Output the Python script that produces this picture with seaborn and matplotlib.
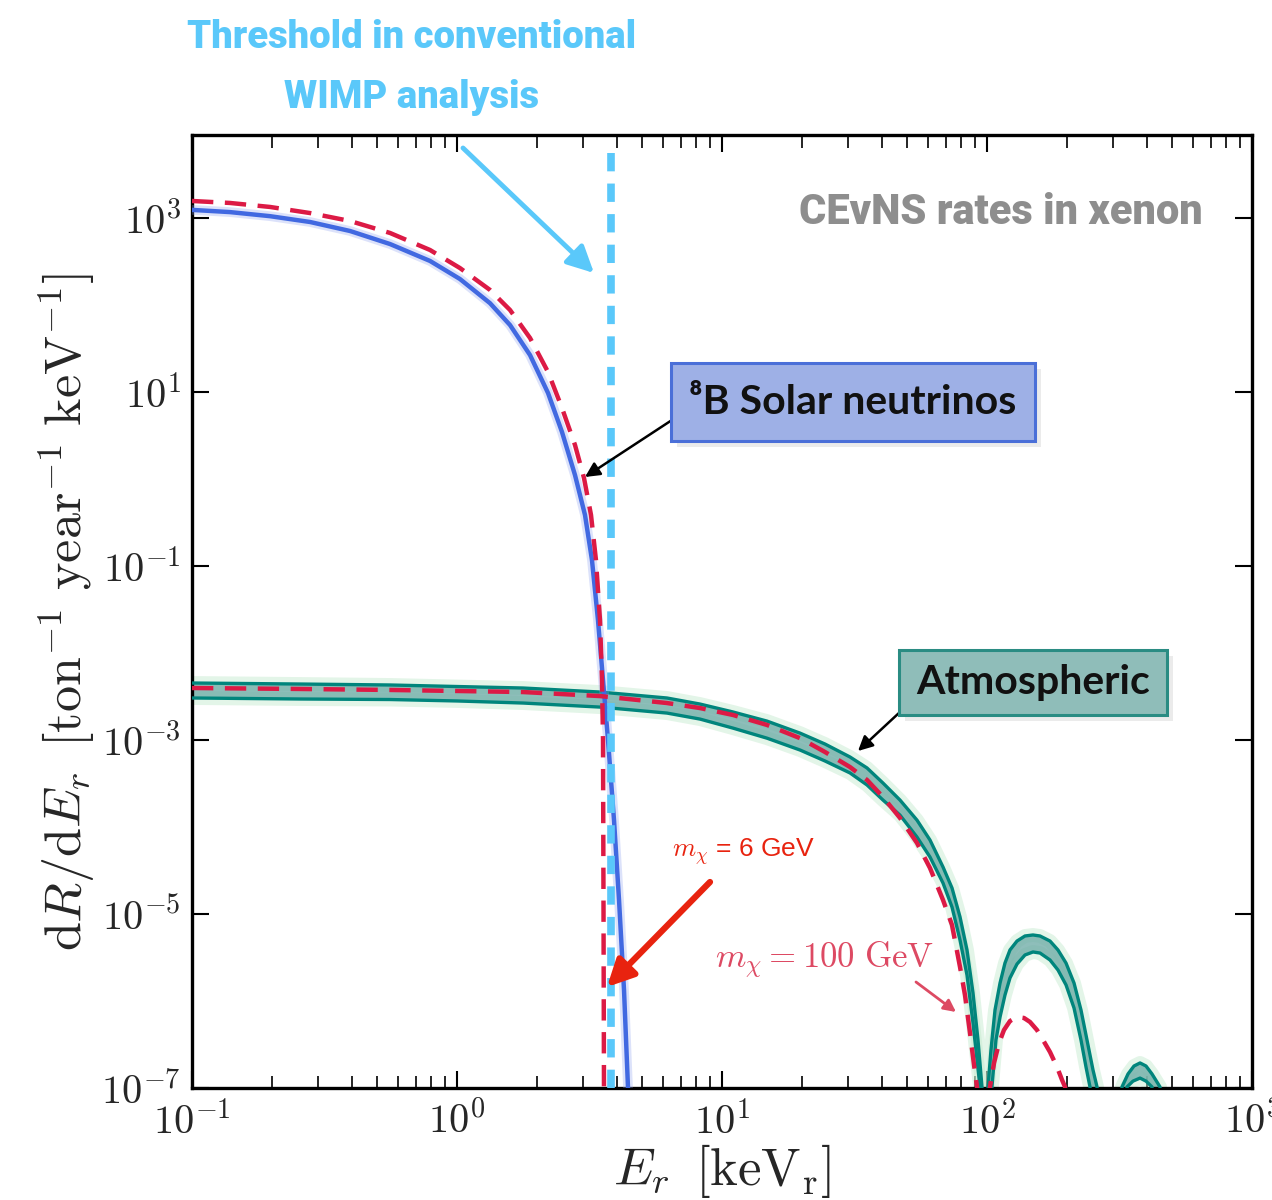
import numpy as np
import matplotlib
matplotlib.use("Agg")
import matplotlib.pyplot as plt
import seaborn as sns
from matplotlib.patches import Rectangle, Polygon

# ---------------------------------------------------------------- data
# 8B solar neutrino CEvNS rate in xenon  [keV_r] -> [ton^-1 yr^-1 keV^-1]
solar_E = [0.100, 0.139, 0.197, 0.279, 0.395, 0.559, 0.791, 1.026, 1.332, 1.585,
           1.886, 2.205, 2.490, 2.788, 3.041, 3.231, 3.404, 3.556, 3.714, 3.913,
           4.087, 4.268, 4.419, 4.45]
solar_R = [1.24e3, 1.17e3, 1.05e3, 9.0e2, 7.09e2, 5.02e2, 3.21e2, 1.99e2, 1.05e2, 58.9,
           26.6, 9.75, 3.47, 1.11, 0.386, 0.117, 2.39e-2, 4.9e-3, 1.0e-3, 1.20e-4,
           1.45e-5, 1.34e-6, 1.0e-7, 3.0e-8]

# WIMP, m = 6 GeV
wimp6_E = [0.100, 0.139, 0.197, 0.279, 0.395, 0.559, 0.791, 1.026, 1.332, 1.585,
           1.886, 2.205, 2.490, 2.788, 3.014, 3.204, 3.345, 3.464, 3.525, 3.556,
           3.571, 3.587]
wimp6_R = [1.57e3, 1.49e3, 1.34e3, 1.14e3, 9.24e2, 6.73e2, 4.29e2, 2.66e2, 1.49e2, 87.7,
           41.8, 17.0, 6.55, 2.46, 1.03, 0.386, 0.117, 2.39e-2, 4.9e-3, 1.0e-3,
           1.45e-5, 7.3e-8]

# atmospheric neutrinos: upper / lower edge of the band (1e-10 marks a form-factor zero)
atm_hi_E = [0.100, 0.256, 0.559, 1.000, 1.775, 3.464, 6.200, 8.26, 11.00, 14.78,
            19.70, 24.47, 30.41, 35.26, 40.51, 46.96, 54.42, 60.93, 68.23, 73.79,
            79.10, 84.04, 88.55, 92.48, 95.74, 98.29,
            100.9, 103.5, 107.2, 112.0, 116.9, 122.1, 129.8, 139.1, 149.1, 158.5,
            172.9, 185.3, 198.7, 213.0, 226.3, 240.5, 251.2, 260.1, 291.2,
            323.2, 340.5, 358.7, 378.0, 398.1, 419.4, 449.6, 499.0]
atm_hi_R = [4.52e-3, 4.40e-3, 4.29e-3, 4.12e-3, 3.96e-3, 3.56e-3, 3.04e-3, 2.59e-3, 2.10e-3, 1.65e-3,
            1.20e-3, 8.99e-4, 6.38e-4, 4.77e-4, 3.20e-4, 2.04e-4, 1.20e-4, 7.09e-5, 3.47e-5, 1.99e-5,
            9.24e-6, 3.86e-6, 1.24e-6, 3.56e-7, 1.03e-7, 1e-10,
            1.03e-7, 2.73e-7, 7.88e-7, 1.61e-6, 2.73e-6, 3.86e-6, 4.89e-6, 5.59e-6, 5.74e-6, 5.59e-6,
            4.89e-6, 3.86e-6, 2.73e-6, 1.61e-6, 7.88e-7, 3.12e-7, 1.61e-7, 1.03e-7, 1e-10,
            1.03e-7, 1.45e-7, 1.79e-7, 1.94e-7, 1.79e-7, 1.45e-7, 1.03e-7, 1e-10]
atm_lo_E = [0.100, 0.256, 0.559, 1.000, 1.775, 3.464, 6.200, 8.26, 11.00, 14.78,
            19.70, 24.47, 30.41, 35.26, 40.51, 46.96, 54.42, 60.93, 68.23, 73.79,
            79.10, 84.04, 88.55, 91.69, 94.10, 98.29,
            104.4, 108.1, 112.0, 116.9, 122.1, 129.8, 139.1, 149.1, 158.5, 172.9,
            185.3, 198.7, 213.0, 226.3, 236.4, 244.7, 291.2,
            337.6, 355.6, 378.0, 398.1, 419.4, 499.0]
atm_lo_R = [3.04e-3, 2.96e-3, 2.92e-3, 2.81e-3, 2.66e-3, 2.39e-3, 2.04e-3, 1.74e-3, 1.37e-3, 1.05e-3,
            7.67e-4, 5.74e-4, 4.18e-4, 3.04e-4, 2.04e-4, 1.37e-4, 7.67e-5, 4.52e-5, 2.27e-5, 1.20e-5,
            5.02e-6, 1.99e-6, 5.59e-7, 2.10e-7, 1.03e-7, 1e-10,
            1.03e-7, 3.56e-7, 6.55e-7, 1.17e-6, 1.84e-6, 2.66e-6, 3.38e-6, 3.66e-6, 3.56e-6, 2.96e-6,
            2.27e-6, 1.53e-6, 8.31e-7, 3.56e-7, 1.74e-7, 1.03e-7, 1e-10,
            1.03e-7, 1.20e-7, 1.30e-7, 1.20e-7, 1.03e-7, 1e-10]

# WIMP, m = 100 GeV
wimp100_E = [0.100, 0.256, 0.559, 1.000, 1.775, 3.464, 6.200, 8.26, 11.00, 14.78,
             19.70, 24.47, 30.41, 35.26, 40.51, 46.96, 54.42, 60.93, 68.23, 73.79,
             79.10, 82.60, 86.26, 89.33, 91.69, 98.29,
             102.6, 106.3, 111.0, 115.9, 122.1, 129.8, 137.9, 145.3, 154.4, 162.7,
             172.9, 183.8, 191.9, 197.0, 214.8]
wimp100_R = [3.96e-3, 3.86e-3, 3.76e-3, 3.66e-3, 3.56e-3, 3.20e-3, 2.66e-3, 2.33e-3, 1.94e-3, 1.49e-3,
             1.05e-3, 7.28e-4, 4.89e-4, 3.47e-4, 2.21e-4, 1.27e-4, 6.55e-5, 3.38e-5, 1.45e-5, 7.47e-6,
             2.46e-6, 1.17e-6, 4.29e-7, 1.84e-7, 1.03e-7, 1e-10,
             1.03e-7, 1.94e-7, 3.29e-7, 4.64e-7, 5.89e-7, 6.55e-7, 6.38e-7, 5.74e-7, 4.64e-7, 3.56e-7,
             2.59e-7, 1.74e-7, 1.24e-7, 1.03e-7, 1.0e-8]

threshold_E = 3.81

x_ticks = [0.1, 1, 10, 100, 1000]
x_labels = [r"$10^{-1}$", r"$10^{0}$", r"$10^{1}$", r"$10^{2}$", r"$10^{3}$"]
y_ticks = [1e-7, 1e-5, 1e-3, 1e-1, 1e1, 1e3]
y_labels = [r"$10^{-7}$", r"$10^{-5}$", r"$10^{-3}$", r"$10^{-1}$", r"$10^{1}$", r"$10^{3}$"]

# ---------------------------------------------------------------- style
sns.set_theme(style="ticks")
plt.rcParams["font.family"] = ["DejaVu Sans"]
plt.rcParams["mathtext.fontset"] = "cm"

W, H = 1272, 1200
fig = plt.figure(figsize=(W / 100, H / 100), dpi=100)


def fx(x):
    return x / W


def fy(y):
    return 1 - y / H


ax = fig.add_axes([fx(192), fy(1088), fx(1252) - fx(192), fy(135) - fy(1088)])
ax.set_xscale("log")
ax.set_yscale("log")
ax.set_xlim(0.1, 1000)
ax.set_ylim(1e-7, 9e3)

TEAL = "#00857c"
BLUE = "#4169e1"
CRIMSON = "#dc1a45"
SKY = "#5ac8fa"


def lobes(R):
    """Index ranges of an edge curve between its zeros."""
    zeros = [i for i, r in enumerate(R) if r < 1e-9]
    bounds = [0] + zeros
    if bounds[-1] != len(R) - 1:
        bounds.append(len(R) - 1)
    return [(bounds[k], bounds[k + 1]) for k in range(len(bounds) - 1)]


hiE, hiR = np.array(atm_hi_E), np.array(atm_hi_R)
loE, loR = np.array(atm_lo_E), np.array(atm_lo_R)
for (a, b), (c, d) in zip(lobes(atm_hi_R), lobes(atm_lo_R)):
    px = np.r_[hiE[a:b + 1], loE[c:d + 1][::-1]]
    py = np.r_[hiR[a:b + 1], loR[c:d + 1][::-1]]
    ax.add_patch(Polygon(np.c_[px, py], closed=True, facecolor="#72aea9",
                         edgecolor="none", alpha=0.8, zorder=2))

# soft outer glow of the atmospheric band
for E, R in [(atm_hi_E, atm_hi_R), (atm_lo_E, atm_lo_R)]:
    sns.lineplot(x=E, y=R, ax=ax, color="#c2e9cc", lw=10, alpha=0.45,
                 sort=False, estimator=None, zorder=1)
for E, R in [(atm_hi_E, atm_hi_R), (atm_lo_E, atm_lo_R)]:
    sns.lineplot(x=E, y=R, ax=ax, color=TEAL, lw=2.4,
                 sort=False, estimator=None, zorder=3)

# solar neutrinos
sns.lineplot(x=solar_E, y=solar_R, ax=ax, color="#8c9ff0", lw=7, alpha=0.3,
             sort=False, estimator=None, zorder=4)
sns.lineplot(x=solar_E, y=solar_R, ax=ax, color=BLUE, lw=3.2,
             sort=False, estimator=None, zorder=5)

# WIMP spectra
for E, R in [(wimp6_E, wimp6_R), (wimp100_E, wimp100_R)]:
    sns.lineplot(x=E, y=R, ax=ax, color=CRIMSON, lw=3.2,
                 linestyle=(0, (4.8, 2.6)), sort=False, estimator=None, zorder=6)

# conventional threshold
ax.axvline(threshold_E, ymin=0, ymax=0.99, color=SKY, lw=5.5,
           linestyle=(0, (2.4, 1.6)), zorder=7)

# axes decoration
for s in ax.spines.values():
    s.set_linewidth(2.4)
    s.set_color("black")
    s.set_visible(True)
ax.set_xticks(x_ticks)
ax.set_xticklabels(x_labels)
ax.set_yticks(y_ticks)
ax.set_yticklabels(y_labels)
ax.yaxis.set_minor_locator(matplotlib.ticker.NullLocator())
ax.xaxis.set_minor_locator(matplotlib.ticker.LogLocator(base=10, subs=np.arange(2, 10)))
ax.xaxis.set_minor_formatter(matplotlib.ticker.NullFormatter())
ax.tick_params(which="both", direction="in", top=True, right=True, color="black")
ax.tick_params(which="major", length=12, width=1.5, labelsize=29, pad=8)
ax.tick_params(which="minor", length=9, width=1.2)
ax.tick_params(axis="x", which="major", pad=10)

ax.set_xlabel(r"$E_r\ \,[\mathrm{keV_r}]$", fontsize=38, labelpad=0)
ax.set_ylabel(r"$\mathrm{d}R/\mathrm{d}E_r\ \,[\mathrm{ton}^{-1}\ \mathrm{year}^{-1}\ \mathrm{keV}^{-1}]$",
              fontsize=37.5, labelpad=2)

# ---------------------------------------------------------------- annotations
HEAD = ["Roboto", "DejaVu Sans"]
fig.text(fx(412), fy(38), "Threshold in conventional", ha="center", va="center",
         family=HEAD, weight="heavy", fontsize=27.5, color=SKY)
fig.text(fx(412), fy(97), "WIMP analysis", ha="center", va="center",
         family=HEAD, weight="heavy", fontsize=27.5, color=SKY)
ax.annotate("", xy=(fx(594), fy(273)), xycoords="figure fraction",
            xytext=(fx(463), fy(148)), textcoords="figure fraction",
            arrowprops=dict(arrowstyle="-|>", color=SKY, lw=3.5, mutation_scale=40,
                            shrinkA=0, shrinkB=0), zorder=12)

fig.text(fx(1001), fy(212), "CEvNS rates in xenon", ha="center", va="center",
         family=HEAD, weight="heavy", fontsize=30, color="#8e8e8e")


def label_box(x0, y0, x1, y1, face, edge, text, size):
    fig.patches.append(Rectangle((fx(x0 + 6), fy(y1 + 6)), fx(x1 - x0), fy(y0) - fy(y1),
                                 transform=fig.transFigure, facecolor="#000000",
                                 alpha=0.08, edgecolor="none", zorder=8))
    fig.patches.append(Rectangle((fx(x0), fy(y1)), fx(x1 - x0), fy(y0) - fy(y1),
                                 transform=fig.transFigure, facecolor=face,
                                 edgecolor=edge, lw=2.2, zorder=9))
    fig.text(fx((x0 + x1) / 2), fy((y0 + y1) / 2), text, ha="center", va="center",
             family=["Lato", "DejaVu Sans"], weight="bold", fontsize=size,
             color="#111111", zorder=10)


label_box(671, 363, 1035, 441, "#9eb0e6", "#4a6fd8", "\u2078B Solar neutrinos", 29.5)
label_box(899, 650, 1167, 715, "#8fbdb9", "#2a8c83", "Atmospheric", 29.5)

ax.annotate("", xy=(fx(585), fy(477)), xycoords="figure fraction",
            xytext=(fx(672), fy(420)), textcoords="figure fraction",
            arrowprops=dict(arrowstyle="-|>", color="black", lw=1.8, mutation_scale=22,
                            shrinkA=0, shrinkB=0), zorder=12)
ax.annotate("", xy=(fx(858), fy(751)), xycoords="figure fraction",
            xytext=(fx(900), fy(712)), textcoords="figure fraction",
            arrowprops=dict(arrowstyle="-|>", color="black", lw=1.8, mutation_scale=22,
                            shrinkA=0, shrinkB=0), zorder=12)

# 6 GeV label
fig.text(fx(744), fy(852), r"$m_\chi$ = 6 GeV", ha="center", va="center",
         family=["Liberation Sans", "DejaVu Sans"], fontsize=19, color="#e8230f")
ax.annotate("", xy=(fx(607), fy(987)), xycoords="figure fraction",
            xytext=(fx(710), fy(882)), textcoords="figure fraction",
            arrowprops=dict(arrowstyle="-|>", color="#e8230f", lw=4.5, mutation_scale=40,
                            shrinkA=0, shrinkB=0), zorder=12)

# 100 GeV label
fig.text(fx(825), fy(960), r"$m_\chi = 100\ \mathrm{GeV}$", ha="center", va="center",
         fontsize=25, color="#dd4a63")
ax.annotate("", xy=(fx(956), fy(1012)), xycoords="figure fraction",
            xytext=(fx(916), fy(982)), textcoords="figure fraction",
            arrowprops=dict(arrowstyle="-|>", color="#dd4a63", lw=2.0, mutation_scale=18,
                            shrinkA=0, shrinkB=0), zorder=12)

fig.savefig("out.png", dpi=100)
